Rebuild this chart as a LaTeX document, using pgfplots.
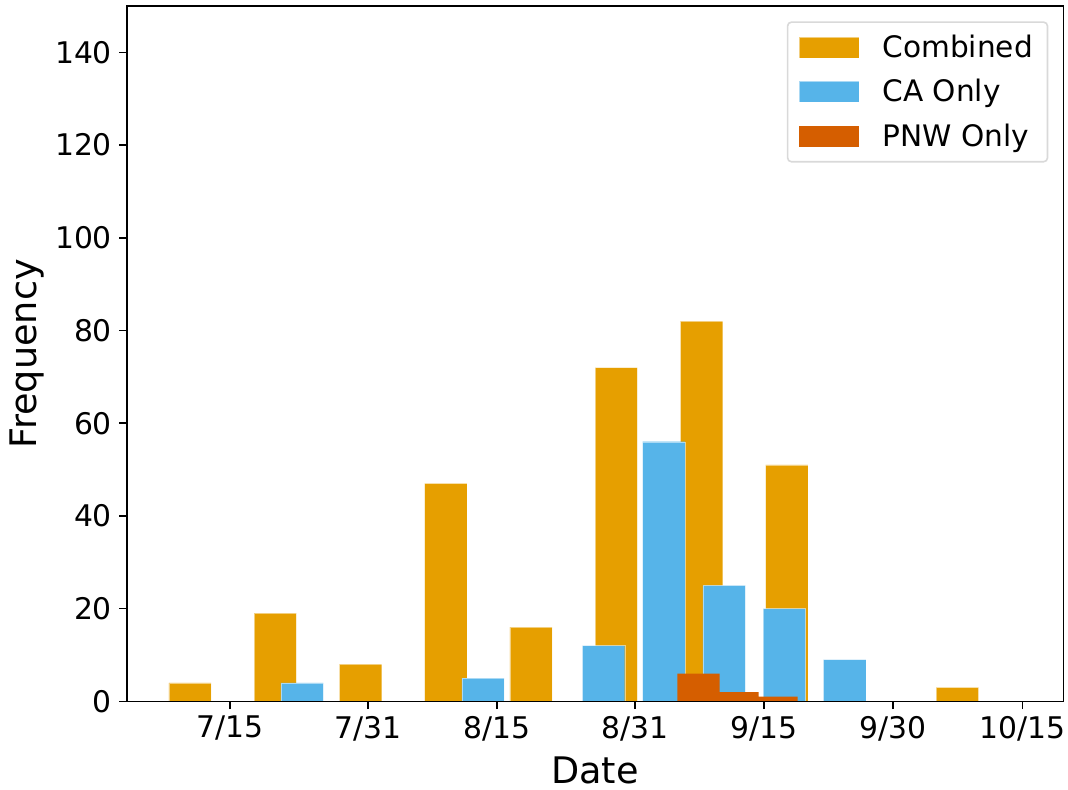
\documentclass[border=0pt]{standalone}
\usepackage{fontspec}
\setmainfont{DejaVu Sans}
\usepackage{pgfplots}
\pgfplotsset{compat=1.18}
\definecolor{comb}{HTML}{E69F00}
\definecolor{ca}{HTML}{56B4E9}
\definecolor{pnw}{HTML}{D55E00}
\begin{document}
\begin{tikzpicture}
\path[use as bounding box] (-63.35pt,-43.85pt) rectangle (470.65pt,350.65pt);
\begin{axis}[
  at={(0,0)}, anchor=south west,
  scale only axis, width=468.3pt, height=347.65pt,
  xmin=-12, xmax=96.76, ymin=0, ymax=150,
  axis on top,
  ybar, bar width=4.92, bar shift=0pt,
  axis line style={line width=0.8pt},
  tick pos=left, tick align=outside,
  major tick length=3.85pt,
  every tick/.style={black, line width=0.8pt},
  xtick={0,16,31,47,62,77,92},
  xticklabels={7/15,7/31,8/15,8/31,9/15,9/30,10/15},
  ytick={0,20,40,60,80,100,120,140},
  /pgf/number format/assume math mode=true,
  tick label style={font=\fontsize{14.9}{17}\selectfont},
  xlabel={Date}, ylabel={Frequency},
  every axis x label/.style={at={(axis description cs:0.5,-0.0988)}, anchor=center, font=\fontsize{18.3}{21}\selectfont},
  every axis y label/.style={at={(axis description cs:-0.1064,0.5)}, anchor=center, rotate=90, font=\fontsize{18.3}{21}\selectfont},
  legend style={at={(rel axis cs:0.984,0.978)}, anchor=north east,
    draw=black!15, rounded corners=2pt, line width=0.8pt,
    font=\fontsize{14.8}{17}\selectfont,
    inner xsep=5.8pt, inner ysep=4.8pt,
    nodes={inner sep=1.5pt}, column sep=10pt, row sep=6.5pt},
  legend cell align=left,
  legend image code/.code={\fill[#1, sharp corners] (0pt,-5.25pt) rectangle (30pt,5.25pt);},
]
\addplot[fill=comb, draw=white, draw opacity=0.5, line width=0.2pt] coordinates {
  (-4.65,4) (5.25,19) (15.15,8) (25.05,47) (34.95,16) (44.85,72) (54.75,82) (64.65,51) (84.45,3)};
\addlegendentry{Combined}
\addplot[fill=ca, draw=white, draw opacity=0.5, line width=0.2pt] coordinates {
  (8.37,4) (29.37,5) (43.37,12) (50.37,56) (57.37,25) (64.37,20) (71.37,9)};
\addlegendentry{CA Only}
\addplot[fill=pnw, draw=none] coordinates {
  (54.4,6) (58.92,2) (63.44,1)};
\addlegendentry{PNW Only}
\end{axis}
\end{tikzpicture}
\end{document}
